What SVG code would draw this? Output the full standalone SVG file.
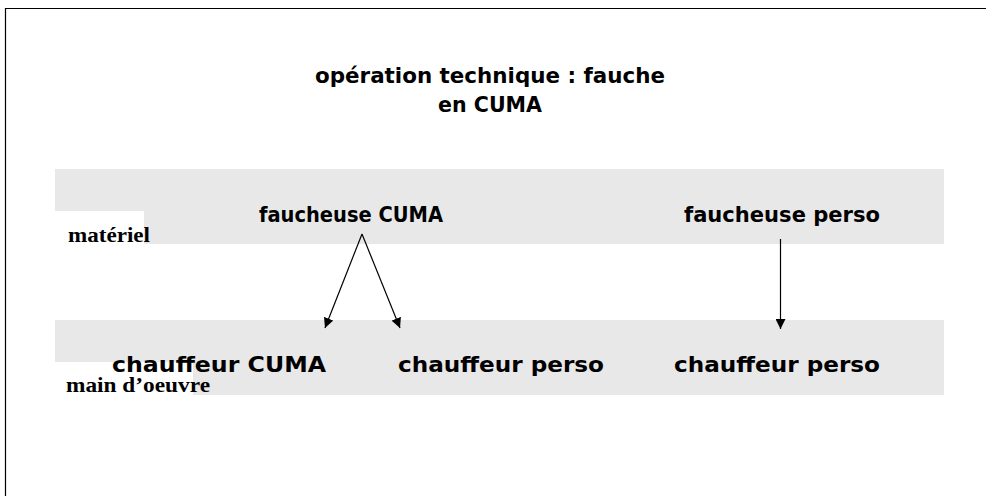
<svg xmlns="http://www.w3.org/2000/svg" width="986" height="496" viewBox="0 0 986 496">
<style>
.band{fill:#e8e8e8}
.lbl{fill:#fff}
.t{font-family:"DejaVu Sans",sans-serif;font-weight:bold;font-size:22px;fill:#000;text-anchor:middle}
.s{font-family:"Liberation Serif",serif;font-weight:bold;font-size:22px;fill:#000}
.c{stroke:#000;stroke-width:1.2;fill:none;marker-end:url(#ah)}
</style>
<defs>
<marker id="ah" viewBox="0 0 10 10" refX="10" refY="5" markerWidth="10" markerHeight="10" markerUnits="userSpaceOnUse" orient="auto">
<path d="M0,0 L10,5 L0,10 z" fill="#000"/>
</marker>
</defs>
<rect width="986" height="496" fill="#fff"/>
<path d="M5.5,496 V8.5 H986" stroke="#000" stroke-width="1.2" fill="none"/>
<g id="title">
<text class="t" x="490" y="83" textLength="350" lengthAdjust="spacingAndGlyphs">opération technique : fauche</text>
<text class="t" x="490" y="112" textLength="104" lengthAdjust="spacingAndGlyphs">en CUMA</text>
</g>
<g id="band-materiel">
<rect class="band" x="55" y="169" width="889" height="75"/>
<rect class="lbl" x="55" y="211" width="89" height="33"/>
<text class="s" x="68" y="242" textLength="82" lengthAdjust="spacingAndGlyphs">matériel</text>
</g>
<g id="band-main">
<rect class="band" x="55" y="320" width="889" height="75"/>
<rect class="lbl" x="55" y="362" width="138" height="33"/>
<text class="s" x="66" y="392" textLength="144" lengthAdjust="spacingAndGlyphs">main d’oeuvre</text>
</g>
<g id="faucheuse-cuma"><text class="t" x="351" y="222" textLength="184" lengthAdjust="spacingAndGlyphs">faucheuse CUMA</text></g>
<g id="faucheuse-perso"><text class="t" x="782" y="222" textLength="196" lengthAdjust="spacingAndGlyphs">faucheuse perso</text></g>
<g id="chauffeur-cuma"><text class="t" x="219" y="372" textLength="214" lengthAdjust="spacingAndGlyphs">chauffeur CUMA</text></g>
<g id="chauffeur-perso-1"><text class="t" x="501" y="372" textLength="206" lengthAdjust="spacingAndGlyphs">chauffeur perso</text></g>
<g id="chauffeur-perso-2"><text class="t" x="777" y="372" textLength="206" lengthAdjust="spacingAndGlyphs">chauffeur perso</text></g>
<g id="connectors">
<line class="c" x1="362" y1="234" x2="325" y2="328"/>
<line class="c" x1="362" y1="234" x2="400" y2="328"/>
<line class="c" x1="780.5" y1="239" x2="780.5" y2="329"/>
</g>
</svg>
